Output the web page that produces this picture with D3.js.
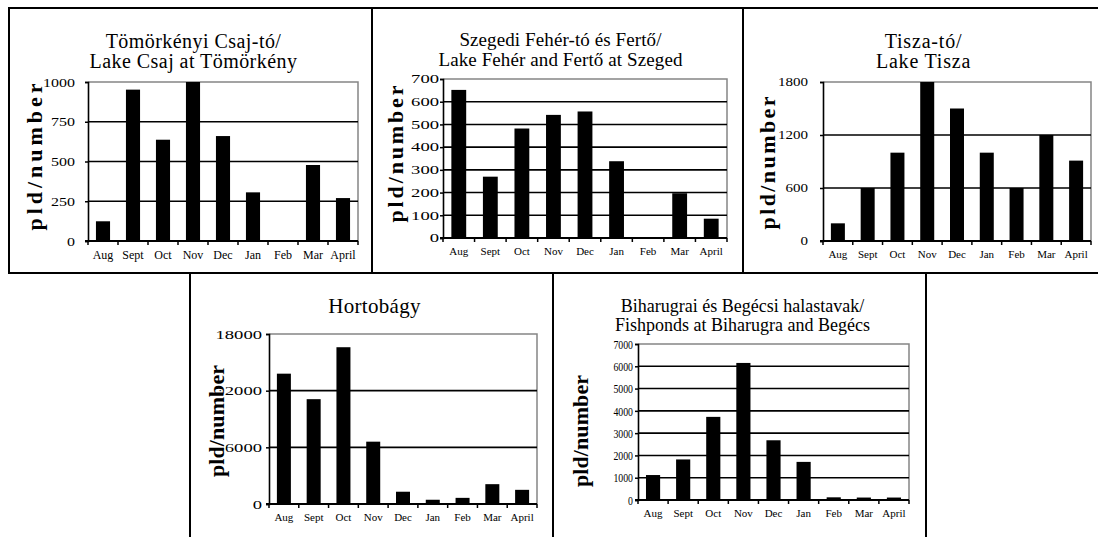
<!DOCTYPE html>
<html>
<head>
<meta charset="utf-8">
<script src="https://cdn.jsdelivr.net/npm/d3@7"></script>
<style>
  body { margin: 0; background: #fff; }
  svg { display: block; }
  text { font-family: "Liberation Serif", "Times New Roman", serif; fill: #000; }
</style>
</head>
<body>
<div id="chart"></div>
<script>
// months on the x axis (same for every panel)
const months = ["Aug", "Sept", "Oct", "Nov", "Dec", "Jan", "Feb", "Mar", "April"];
const yLabel = "pld/number";

// Tömörkényi Csaj-tó
const csajTitle = ["Tömörkényi Csaj-tó/", "Lake Csaj at Tömörkény"];
const csajValues = [124, 952, 637, 1000, 660, 306, 0, 478, 270];
const csajTicks = [0, 250, 500, 750, 1000];

// Szegedi Fehér-tó
const feherTitle = ["Szegedi Fehér-tó és Fertő/", "Lake Fehér and Fertő at Szeged"];
const feherValues = [652, 270, 482, 542, 557, 338, 0, 197, 85];
const feherTicks = [0, 100, 200, 300, 400, 500, 600, 700];

// Tisza-tó
const tiszaTitle = ["Tisza-tó/", "Lake Tisza"];
const tiszaValues = [200, 600, 1000, 1800, 1500, 1000, 600, 1200, 910];
const tiszaTicks = [0, 600, 1200, 1800];

// Hortobágy
const hortoTitle = ["Hortobágy"];
const hortoValues = [13800, 11100, 16600, 6600, 1300, 450, 650, 2100, 1500];
const hortoTicks = [0, 6000, 12000, 18000];

// Biharugra / Begécs
const bihaTitle = ["Biharugrai és Begécsi halastavak/", "Fishponds at Biharugra and Begécs"];
const bihaValues = [1120, 1820, 3730, 6150, 2680, 1710, 120, 110, 110];
const bihaTicks = [0, 1000, 2000, 3000, 4000, 5000, 6000, 7000];

const W = 1098, H = 537;

const svg = d3.select("#chart").append("svg")
    .attr("width", W).attr("height", H);

// layout of each panel (box = outer frame, plot = x0,y0,x1,y1 of the plotting area)
const panels = [
  { title: csajTitle, values: csajValues, ticks: csajTicks,
    box: [9, 8, 372, 273], plot: [88, 82, 358, 241], titleY: [48, 68], titleSize: 20, titleLs: 0.45,
    tickFont: 13, digitW: 8, tickPad: 10, labelX: 42, labelY: 157, labelLen: 147, xFont: 12 },
  { title: feherTitle, values: feherValues, ticks: feherTicks,
    box: [372, 8, 743, 273], plot: [443, 79, 727, 238], titleY: [46, 66], titleSize: 19, titleLs: 0.1,
    tickFont: 12, digitW: 9.3, tickPad: 1, labelX: 403, labelY: 154, labelLen: 137, xFont: 11 },
  { title: tiszaTitle, values: tiszaValues, ticks: tiszaTicks,
    box: [743, 8, 1110, 273], plot: [823, 82, 1091, 241], titleY: [48, 68], titleSize: 20, titleLs: 0.8,
    tickFont: 12, digitW: 7.5, tickPad: 12, labelX: 775, labelY: 163, labelLen: 133, xFont: 11 },
  { title: hortoTitle, values: hortoValues, ticks: hortoTicks,
    box: [190, 273, 553, 545], plot: [269, 334, 537, 504], titleY: [313], titleSize: 21, titleLs: 0.3,
    tickFont: 13, digitW: 9.3, tickPad: 4, labelX: 224, labelY: 421, labelLen: 112, xFont: 11 },
  { title: bihaTitle, values: bihaValues, ticks: bihaTicks,
    box: [553, 273, 926, 545], plot: [638, 344, 909, 500], titleY: [312, 331], titleSize: 18, titleLs: 0,
    tickFont: 13, digitW: 4.9, tickPad: 2, labelX: 588, labelY: 431, labelLen: 112, xFont: 11 }
];

panels.forEach(p => drawPanel(p));

function drawPanel(p) {
    const [bx0, by0, bx1, by1] = p.box;
    const [px0, py0, px1, py1] = p.plot;
    const g = svg.append("g");

    // outer frame
    g.append("rect")
        .attr("x", bx0).attr("y", by0)
        .attr("width", bx1 - bx0).attr("height", by1 - by0)
        .attr("fill", "none").attr("stroke", "#000").attr("stroke-width", 2);

    // title
    p.title.forEach((t, i) => {
        g.append("text")
            .attr("x", (bx0 + Math.min(bx1, W)) / 2 + 3)
            .attr("y", p.titleY[i])
            .attr("text-anchor", "middle")
            .attr("font-family", "Liberation Serif")
            .attr("font-size", p.titleSize)
            .attr("letter-spacing", p.titleLs)
            .text(t);
    });

    const pad = 0.53;
    const x = d3.scaleBand().domain(months).range([px0, px1])
        .paddingInner(pad).paddingOuter(pad / 2);
    const y = d3.scaleLinear().domain([0, d3.max(p.ticks)]).range([py1, py0]);

    // grey frame of the plot area (top & right)
    g.append("path")
        .attr("d", "M" + px0 + "," + py0 + " L" + px1 + "," + py0 + " L" + px1 + "," + py1)
        .attr("fill", "none").attr("stroke", "#858585").attr("stroke-width", 1.5);

    // gridlines
    g.selectAll(".grid").data(p.ticks.slice(1, -1)).enter().append("line")
        .attr("x1", px0).attr("x2", px1)
        .attr("y1", d => y(d)).attr("y2", d => y(d))
        .attr("stroke", "#000").attr("stroke-width", 1.6);

    // bars
    g.selectAll(".bar").data(p.values).enter().append("rect")
        .attr("x", (d, i) => x(months[i]))
        .attr("y", d => y(d))
        .attr("width", x.bandwidth())
        .attr("height", d => y(0) - y(d))
        .attr("fill", "#000");

    // y axis
    const ya = g.append("g")
        .attr("transform", "translate(" + px0 + ",0)")
        .call(d3.axisLeft(y).tickValues(p.ticks).tickSize(3).tickPadding(p.tickPad).tickFormat(d3.format("d")));
    ya.select(".domain").attr("stroke", "#000").attr("stroke-width", 1.6);
    ya.selectAll("line").attr("stroke", "#000").attr("stroke-width", 1.5);
    ya.selectAll("text")
        .attr("font-family", "Liberation Serif")
        .attr("font-size", p.tickFont)
        .attr("textLength", d => String(d).length * p.digitW)
        .attr("lengthAdjust", "spacingAndGlyphs");

    // x axis : labels, then boundary ticks
    const xa = g.append("g")
        .attr("transform", "translate(0," + py1 + ")")
        .call(d3.axisBottom(x).tickSize(0).tickPadding(9));
    xa.select(".domain").remove();
    xa.selectAll("text")
        .attr("font-family", "Liberation Serif")
        .attr("font-size", p.xFont);

    const gap = x.step() - x.bandwidth();
    const bounds = months.map(m => x(m) - gap / 2).concat([px1]);
    g.selectAll(".xt").data(bounds).enter().append("line")
        .attr("x1", d => d).attr("x2", d => d)
        .attr("y1", py1).attr("y2", py1 + 4)
        .attr("stroke", "#000").attr("stroke-width", 1.5);
    g.append("line")
        .attr("x1", px0 - 3).attr("x2", px1)
        .attr("y1", py1).attr("y2", py1)
        .attr("stroke", "#000").attr("stroke-width", 2);

    // y axis title (baseline at labelX, reads bottom to top)
    g.append("text")
        .attr("transform", "translate(" + p.labelX + "," + p.labelY + ") rotate(-90)")
        .attr("text-anchor", "middle")
        .attr("font-family", "Liberation Serif")
        .attr("font-size", 22)
        .attr("font-weight", "bold")
        .attr("textLength", p.labelLen)
        .attr("lengthAdjust", "spacing")
        .attr("stroke", "#fff").attr("stroke-width", 2.5).attr("paint-order", "stroke")
        .text(yLabel);
}
</script>
</body>
</html>
